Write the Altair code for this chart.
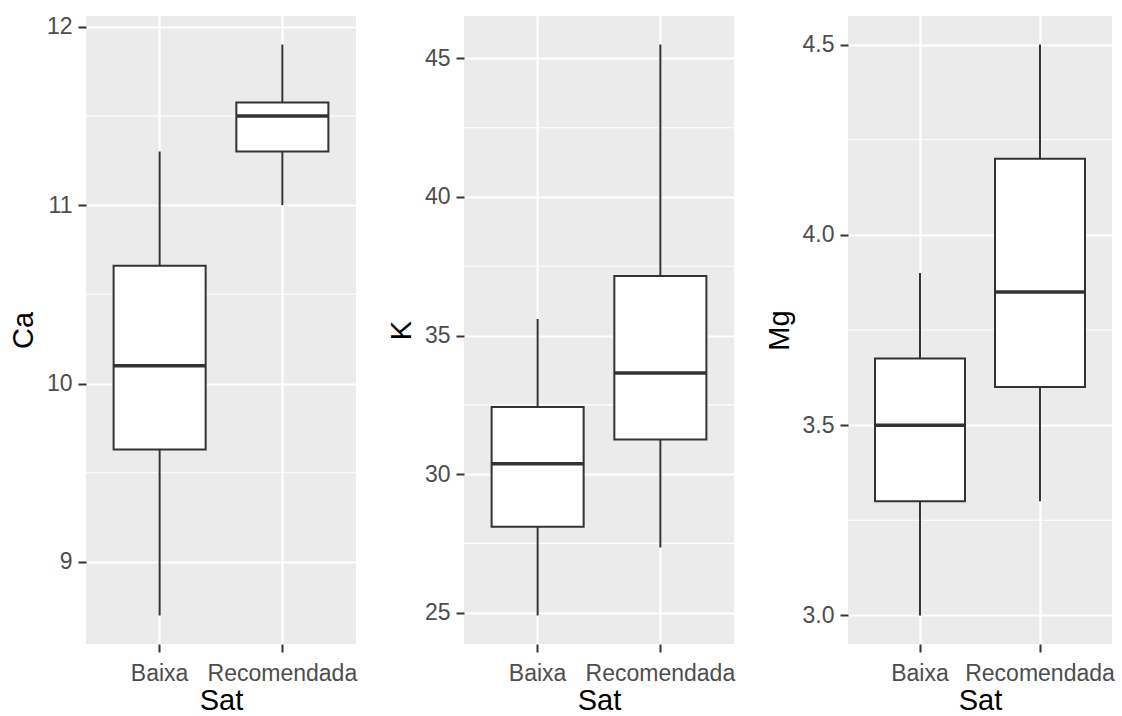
import altair as alt
import pandas as pd

# Category levels on the x axis
sat = ["Baixa", "Recomendada"]

# Five-number summaries per nutrient (whisker low, Q1, median, Q3, whisker high)
ca_lower = [8.7, 11.0]
ca_q1 = [9.63, 11.3]
ca_median = [10.1, 11.5]
ca_q3 = [10.66, 11.575]
ca_upper = [11.3, 11.9]
ca_ticks = [9, 10, 11, 12]

k_lower = [24.9, 27.35]
k_q1 = [28.1, 31.25]
k_median = [30.37, 33.65]
k_q3 = [32.42, 37.15]
k_upper = [35.6, 45.5]
k_ticks = [25, 30, 35, 40, 45]

mg_lower = [3.0, 3.3]
mg_q1 = [3.3, 3.6]
mg_median = [3.5, 3.85]
mg_q3 = [3.675, 4.2]
mg_upper = [3.9, 4.5]
mg_ticks = [3.0, 3.5, 4.0, 4.5]

FONT = "Liberation Sans"
INK = "#333333"
PANEL_H = 628


def panel(title, lower, q1, med, q3, upper, ticks, fmt, width):
    df = pd.DataFrame({"Sat": sat, "lower": lower, "q1": q1, "median": med,
                       "q3": q3, "upper": upper})
    lo, hi = min(lower), max(upper)
    ext = 0.05 * (hi - lo)
    domain = [lo - ext, hi + ext]

    # minor grid lines half-way between major breaks
    step = ticks[1] - ticks[0]
    cand = [ticks[0] - step / 2] + [t + step / 2 for t in ticks]
    minor = pd.DataFrame({"v": [c for c in cand if domain[0] <= c <= domain[1]]})

    yscale = alt.Scale(domain=domain, nice=False, zero=False)
    yaxis = alt.Axis(values=ticks, format=fmt, grid=True, gridColor="white",
                     gridWidth=2.2, labelPadding=6, titlePadding=8)
    xenc = alt.X("Sat:N", sort=sat, title="Sat",
                 scale=alt.Scale(paddingInner=0.25, paddingOuter=0.225),
                 axis=alt.Axis(grid=True, gridColor="white", gridWidth=2.2,
                               bandPosition=0.5, labelAngle=0, labelPadding=10,
                               titlePadding=1))

    grid_minor = alt.Chart(minor).mark_rule(color="white", strokeWidth=1.1).encode(
        y=alt.Y("v:Q", scale=yscale, axis=yaxis, title=title)
    )
    whisker = alt.Chart(df).mark_rule(color=INK, strokeWidth=2).encode(
        x=xenc,
        y=alt.Y("lower:Q", scale=yscale, axis=yaxis, title=title),
        y2="upper:Q",
    )
    box = alt.Chart(df).mark_bar(fill="white", stroke=INK, strokeWidth=2).encode(
        x=xenc,
        y=alt.Y("q1:Q", scale=yscale, axis=yaxis, title=title),
        y2="q3:Q",
    )
    bw = width / 2.2 * 0.75
    median = alt.Chart(df).mark_tick(color=INK, opacity=1, thickness=3.5,
                                     size=bw).encode(
        x=xenc,
        y=alt.Y("median:Q", scale=yscale, axis=yaxis, title=title),
    )
    return alt.layer(grid_minor, whisker, box, median).properties(
        width=width, height=PANEL_H
    )


p_ca = panel("Ca", ca_lower, ca_q1, ca_median, ca_q3, ca_upper, ca_ticks, "d", 270)
p_k = panel("K", k_lower, k_q1, k_median, k_q3, k_upper, k_ticks, "d", 270)
p_mg = panel("Mg", mg_lower, mg_q1, mg_median, mg_q3, mg_upper, mg_ticks, ".1f", 264)

chart = (
    alt.hconcat(alt.hconcat(p_ca, p_k, spacing=30), p_mg, spacing=30)
    .properties(padding={"left": 9, "top": 15, "right": 0, "bottom": 0},
                background="white")
    .configure_view(fill="#EBEBEB", strokeWidth=0)
    .configure_axis(
        labelFont=FONT, labelFontSize=23, labelColor="#4D4D4D",
        titleFont=FONT, titleFontSize=29, titleColor="black",
        titleFontWeight="normal", tickColor=INK, tickSize=8, tickWidth=2,
        domain=False,
    )
)

chart.save("out.html", embed_options={"renderer": "svg", "actions": False})
